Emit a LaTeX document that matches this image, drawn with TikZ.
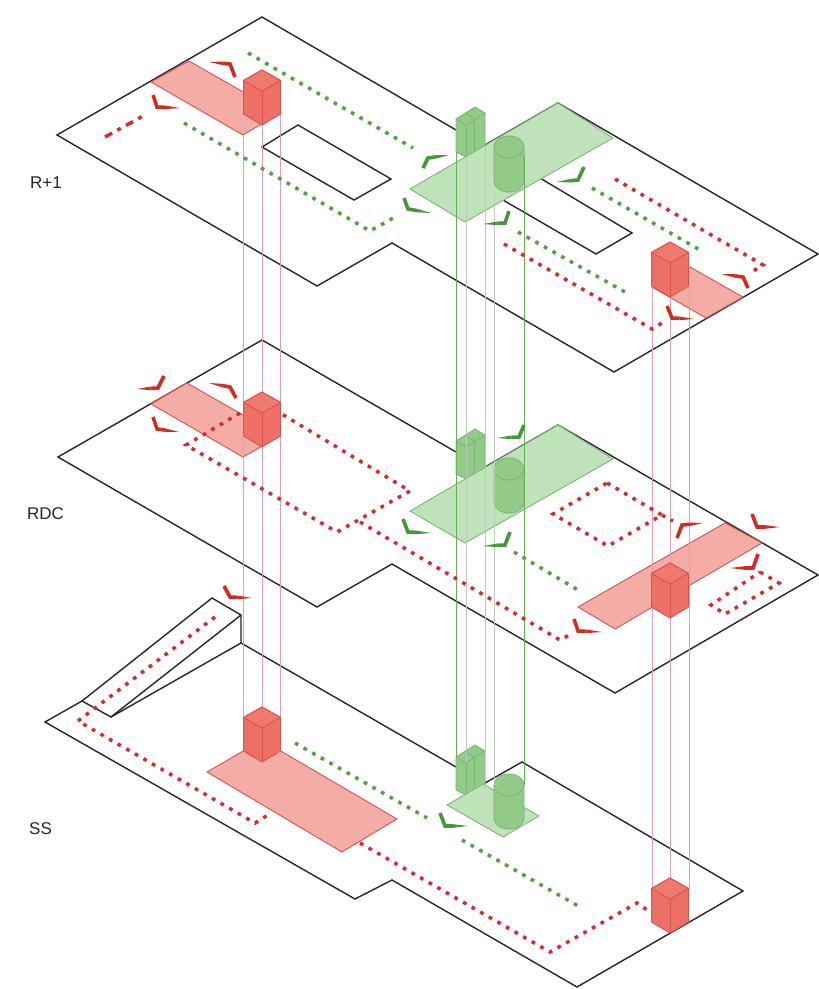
\documentclass[tikz,border=0pt]{standalone}
\usepackage{fontspec}
\setmainfont{Liberation Sans}
\usetikzlibrary{calc}
\definecolor{planeR}{RGB}{244,172,166}
\definecolor{edgeR}{RGB}{218,82,76}
\definecolor{cubeR}{RGB}{237,112,102}
\definecolor{topR}{RGB}{237,122,108}
\definecolor{planeG}{RGB}{192,226,186}
\definecolor{edgeG}{RGB}{124,182,118}
\definecolor{cubeG}{RGB}{146,203,136}
\definecolor{dotR}{RGB}{214,44,44}
\definecolor{dotG}{RGB}{84,160,66}
\definecolor{chevR}{RGB}{208,44,36}
\definecolor{chevG}{RGB}{70,150,60}
\definecolor{pinkV}{RGB}{224,158,180}
\definecolor{greenV}{RGB}{104,176,88}
\definecolor{greyV}{RGB}{186,202,186}
\tikzset{
  wall/.style={draw=black!85,line width=1.4pt,line join=miter},
  planered/.style={fill=planeR,draw=edgeR,line width=.9pt},
  planegreen/.style={fill=planeG,draw=edgeG,line width=.9pt},
  dotred/.style={draw=dotR,line width=3.5pt,dash pattern=on 3.7pt off 6.2pt},
  dotgreen/.style={draw=dotG,line width=3.5pt,dash pattern=on 3.7pt off 6.2pt},
  dashdot/.style={draw=dotR,line width=3.5pt,dash pattern=on 8pt off 6pt on 4pt off 6pt},
  vpink/.style={draw=pinkV,line width=1pt},
  vgreen/.style={draw=greenV,line width=1pt},
  vgrey/.style={draw=greyV,line width=1pt},
  lab/.style={anchor=west,inner sep=0pt,font=\fontsize{17}{19}\selectfont,text=black!85}
}
% chevron: long tip, apex, short end
\newcommand\chev[4]{%
  \coordinate (chevp) at ($#3!.35!#2$);
  \fill[#1] #2 -- ($(chevp)!1.8pt!90:#2$) -- ($(chevp)!1.8pt!-90:#2$) -- cycle;
  \draw[#1,line width=3.6pt,line join=miter] (chevp) -- #3 -- #4;}
\newcommand\redcube[2]{%
  \begin{scope}[shift={(#1,#2)},draw=edgeR,line width=.9pt,line join=round]
    \filldraw[fill=cubeR] (0,0) -- (18.5,10.5) -- (18.5,44) -- (0,55) -- (-18.5,44) -- (-18.5,10.5) -- cycle;
    \filldraw[fill=topR] (0,0) -- (18.5,10.5) -- (0,21) -- (-18.5,10.5) -- cycle;
    \draw (0,21) -- (0,55);
  \end{scope}}
\newcommand\greenbox[1]{%
  \begin{scope}[shift={(0,#1)},draw=edgeG,line width=.9pt,line join=round]
    \filldraw[fill=cubeG] (456,119) -- (475,107) -- (485,113) -- (485,146) -- (466,157) -- (456,152) -- cycle;
    \draw (456,119) -- (466,125) -- (485,113);
    \draw (466,125) -- (466,157);
    \draw (474,119) -- (474,152);
    \draw (465,113) -- (474,119);
  \end{scope}}
\newcommand\greencyl[2]{%
  \begin{scope}[shift={(509,#1)},draw=edgeG,line width=.9pt]
    \filldraw[fill=cubeG] (-15,0) -- (-15,#2) .. controls (-15,#2+6.1) and (-8.3,#2+11) .. (0,#2+11) .. controls (8.3,#2+11) and (15,#2+6.1) .. (15,#2) -- (15,0)
      .. controls (15,-6.1) and (8.3,-11) .. (0,-11) .. controls (-8.3,-11) and (-15,-6.1) .. (-15,0) -- cycle;
    \draw (-15,0) .. controls (-15,6.1) and (-8.3,11) .. (0,11) .. controls (8.3,11) and (15,6.1) .. (15,0);
  \end{scope}}
\begin{document}
\begin{tikzpicture}[x=1pt,y=-1pt]
\useasboundingbox (0,0) rectangle (819,989);
\fill[white] (0,0) rectangle (819,989);
% outlines R+1
\draw[wall] (456,130) -- (262,17) -- (57,135) -- (317,286) -- (392,243) -- (614,372) -- (818,254) -- (558,103) -- (485,145);
\draw[wall] (298,125) -- (391,179) -- (354,200) -- (262,147) -- cycle;
\draw[wall] (503,200) -- (596,254) -- (632,233) -- (540,178);
% outlines RDC
\draw[wall] (456,452) -- (262,340) -- (58,457) -- (317,607) -- (392,564) -- (615,693) -- (818,575) -- (558,425) -- (485,467);
% outlines SS
\draw[wall] (456,767) -- (241,643) -- (241,615) -- (212,598) -- (82,701) -- (111,717) -- (241,615);
\draw[wall] (241,643) -- (111,717);
\draw[wall] (82,701) -- (45,722) -- (355,899) -- (392,880) -- (577,987) -- (743,891) -- (522,762) -- (485,783);
% green stacks behind the plates
\greenbox{0}\greenbox{322}\greenbox{638}
% plates
\path[planered] (189,61) -- (151,82) -- (243,135) -- (280,113) -- cycle;
\path[planered] (690,267) -- (743,297) -- (706,318) -- (652,287) -- cycle;
\path[planered] (187,383) -- (151,404) -- (243,457) -- (280,436) -- cycle;
\path[planered] (725,523) -- (762,543) -- (615,629) -- (578,607) -- cycle;
\path[planered] (207,772) -- (342,852) -- (397,819) -- (262,740) -- cycle;
\path[planegreen] (558,103) -- (613,138) -- (465,222) -- (410,189) -- cycle;
\path[planegreen] (558,425) -- (613,459) -- (465,543) -- (410,511) -- cycle;
\path[planegreen] (483,784) -- (539,816) -- (503,837) -- (447,805) -- cycle;
% cylinders
\greencyl{147}{34}\greencyl{469}{33}\greencyl{785}{33}
% verticals
\draw[vpink] (243,135) -- (243,720);
\draw[vpink] (262,125) -- (262,730);
\draw[vpink] (280,114) -- (280,720);
\draw[vpink] (652,286) -- (652,890);
\draw[vpink] (670,297) -- (670,900);
\draw[vpink] (689,286) -- (689,890);
\draw[vgreen] (456,152) -- (456,757);
\draw[vgrey] (466,157) -- (466,762);
\draw[vgrey] (485,146) -- (485,751);
\draw[vgrey] (494,192) -- (494,785);
\draw[vgreen] (524,155) -- (524,785);
% dotted routes R+1
\draw[dotgreen] (248,53) -- (413,148);
\draw[dotgreen] (184,123) -- (370,231) -- (395,217);
\draw[dashdot] (105,137) -- (145,115);
\draw[dotgreen] (592,188) -- (700,250);
\draw[dotred] (615,179) -- (763,265) -- (750,273);
\draw[dotgreen] (518,232) -- (625,292);
\draw[dotred] (504,244) -- (652,329) -- (662,323);
% dotted routes RDC
\draw[dotred] (240,413) -- (186,445) -- (337,532) -- (410,491) -- (280,413);
\draw[dotred] (360,522) -- (560,640) -- (573,633);
\draw[dotgreen] (514,552) -- (578,590);
\draw[dotred] (607,483) -- (662,515) -- (608,546) -- (553,514) -- cycle;
\draw[dotred] (662,515) -- (673,521);
\draw[dotred] (760,572) -- (779,583) -- (725,614) -- (711,605) -- cycle;
% dotted routes SS
\draw[dotred] (215,617) -- (78,721) -- (255,823) -- (268,815);
\draw[dotgreen] (295,743) -- (427,818);
\draw[dotgreen] (462,840) -- (580,907);
\draw[dotred] (360,843) -- (550,952) -- (637,903) -- (650,912);
% cubes
\redcube{262}{70}\redcube{670}{242}\redcube{262}{392}\redcube{670}{563}\redcube{262}{707}\redcube{670}{878}
% chevrons R+1
\chev{chevR}{(209,62)}{(230,64)}{(235,77)}
\chev{chevR}{(180,108)}{(157,107)}{(153,95)}
\chev{chevG}{(449,155)}{(428,158)}{(423,168)}
\chev{chevG}{(431,213)}{(408,209)}{(404,198)}
\chev{chevG}{(557,182)}{(578,180)}{(584,167)}
\chev{chevG}{(483,224)}{(505,223)}{(509,211)}
\chev{chevR}{(721,274)}{(743,277)}{(748,288)}
\chev{chevR}{(694,319)}{(672,318)}{(667,306)}
% chevrons RDC
\chev{chevR}{(137,389)}{(158,388)}{(164,376)}
\chev{chevR}{(209,383)}{(230,387)}{(236,398)}
\chev{chevR}{(179,432)}{(157,429)}{(153,417)}
\chev{chevG}{(431,533)}{(408,532)}{(403,519)}
\chev{chevG}{(497,438)}{(519,437)}{(524,425)}
\chev{chevG}{(483,546)}{(505,545)}{(510,532)}
\chev{chevR}{(703,523)}{(682,525)}{(677,538)}
\chev{chevR}{(780,527)}{(757,527)}{(752,514)}
\chev{chevR}{(730,568)}{(753,568)}{(758,554)}
\chev{chevR}{(602,632)}{(578,631)}{(574,619)}
\chev{chevR}{(252,598)}{(230,597)}{(224,586)}
% chevron SS
\chev{chevG}{(468,826)}{(445,826)}{(440,813)}
% labels
\node[lab] (lrp) at (30,183) {R+1};
\node[lab] (lrdc) at (27,514) {RDC};
\node[lab] (lss) at (29,829) {SS};
\end{tikzpicture}
\end{document}
